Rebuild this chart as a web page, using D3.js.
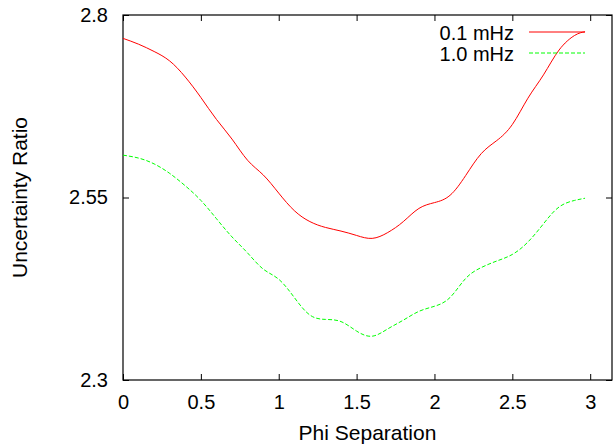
<!DOCTYPE html>
<html>
<head>
<meta charset="utf-8">
<script src="https://cdn.jsdelivr.net/npm/d3@7"></script>
<style>
  body { margin: 0; background: #fff; }
  svg text { font-family: "Liberation Sans", Arial, sans-serif; fill: #000; }
</style>
</head>
<body>
<div id="chart"></div>
<script>
const phi = [0, 0.1, 0.2, 0.3, 0.4, 0.5, 0.6, 0.7, 0.8, 0.9, 1.0, 1.1, 1.2, 1.3, 1.4, 1.5,
	1.6, 1.7, 1.8, 1.9, 2.0, 2.1, 2.2, 2.3, 2.4, 2.5, 2.6, 2.7, 2.8, 2.9, 2.967];
const ratio01 = [2.768, 2.760, 2.750, 2.737, 2.715, 2.687, 2.657, 2.630, 2.601, 2.581, 2.556,
	2.532, 2.517, 2.509, 2.504, 2.498, 2.494, 2.502, 2.517, 2.535, 2.543, 2.553, 2.580, 2.610,
	2.628, 2.650, 2.686, 2.718, 2.752, 2.772, 2.777];
const ratio10 = [2.608, 2.604, 2.596, 2.583, 2.566, 2.546, 2.521, 2.496, 2.474, 2.452, 2.438,
	2.413, 2.389, 2.383, 2.380, 2.367, 2.360, 2.370, 2.382, 2.394, 2.401, 2.413, 2.439, 2.454,
	2.463, 2.472, 2.489, 2.514, 2.537, 2.546, 2.549];
const seriesNames = ["0.1 mHz", "1.0 mHz"];
const xTicks = [0, 0.5, 1, 1.5, 2, 2.5, 3];
const yTicks = [2.3, 2.55, 2.8];

const W = 613, H = 447;
const plot = {left: 123, right: 612, top: 15, bottom: 380};

const svg = d3.select("#chart")
	.append("svg")
	.attr("width", W)
	.attr("height", H);

// scales
let x = d3.scaleLinear().domain([0, 3.14]).range([plot.left, plot.right]);
let y = d3.scaleLinear().domain([2.3, 2.8]).range([plot.bottom, plot.top]);

// axes, ticks pointing inwards like gnuplot
svg.append("g")
	.attr("transform", "translate(0," + plot.bottom + ")")
	.call(d3.axisBottom(x).tickValues(xTicks).tickSize(-6).tickPadding(15).tickFormat(d3.format("")))
	.call(g => g.select(".domain").remove());
svg.append("g")
	.attr("transform", "translate(0," + plot.top + ")")
	.call(d3.axisTop(x).tickValues(xTicks).tickSize(-6).tickFormat(""))
	.call(g => g.select(".domain").remove());
svg.append("g")
	.attr("transform", "translate(" + plot.left + ",0)")
	.call(d3.axisLeft(y).tickValues(yTicks).tickSize(-6).tickPadding(15).tickFormat(d3.format("")))
	.call(g => g.select(".domain").remove());
svg.append("g")
	.attr("transform", "translate(" + plot.right + ",0)")
	.call(d3.axisRight(y).tickValues(yTicks).tickSize(-6).tickFormat(""))
	.call(g => g.select(".domain").remove());

svg.selectAll(".tick line").attr("stroke", "#000");
svg.selectAll("g").attr("font-family", null).attr("font-size", 20);

// frame
svg.append("rect")
	.attr("x", plot.left).attr("y", plot.top)
	.attr("width", plot.right - plot.left).attr("height", plot.bottom - plot.top)
	.attr("fill", "none")
	.attr("stroke", "#000")
	.attr("stroke-width", 1.2);

// axis titles
svg.append("text")
	.attr("x", (plot.left + plot.right) / 2)
	.attr("y", 440)
	.attr("text-anchor", "middle")
	.attr("font-size", 21)
	.text("Phi Separation");
svg.append("text")
	.attr("transform", "translate(27," + ((plot.top + plot.bottom) / 2) + ") rotate(-90)")
	.attr("text-anchor", "middle")
	.attr("font-size", 21)
	.text("Uncertainty Ratio");

// curves
const line = d3.line()
	.x((d, i) => x(phi[i]))
	.y(d => y(d))
	.curve(d3.curveNatural);

const styles = [
	{color: "#ff0000", dash: null},
	{color: "#00ff00", dash: "4,2"}
];

[ratio01, ratio10].forEach((vals, k) => {
	svg.append("path")
		.attr("d", line(vals))
		.attr("fill", "none")
		.attr("stroke", styles[k].color)
		.attr("stroke-width", 1)
		.attr("stroke-dasharray", styles[k].dash);
});

// legend
seriesNames.forEach((name, k) => {
	let ly = 33 + k * 21;
	svg.append("text")
		.attr("x", 514)
		.attr("y", ly)
		.attr("dy", "0.35em")
		.attr("text-anchor", "end")
		.attr("font-size", 20)
		.text(name);
	svg.append("line")
		.attr("x1", 529).attr("x2", 585)
		.attr("y1", ly - 1).attr("y2", ly - 1)
		.attr("stroke", styles[k].color)
		.attr("stroke-width", 1)
		.attr("stroke-dasharray", styles[k].dash);
});
</script>
</body>
</html>
